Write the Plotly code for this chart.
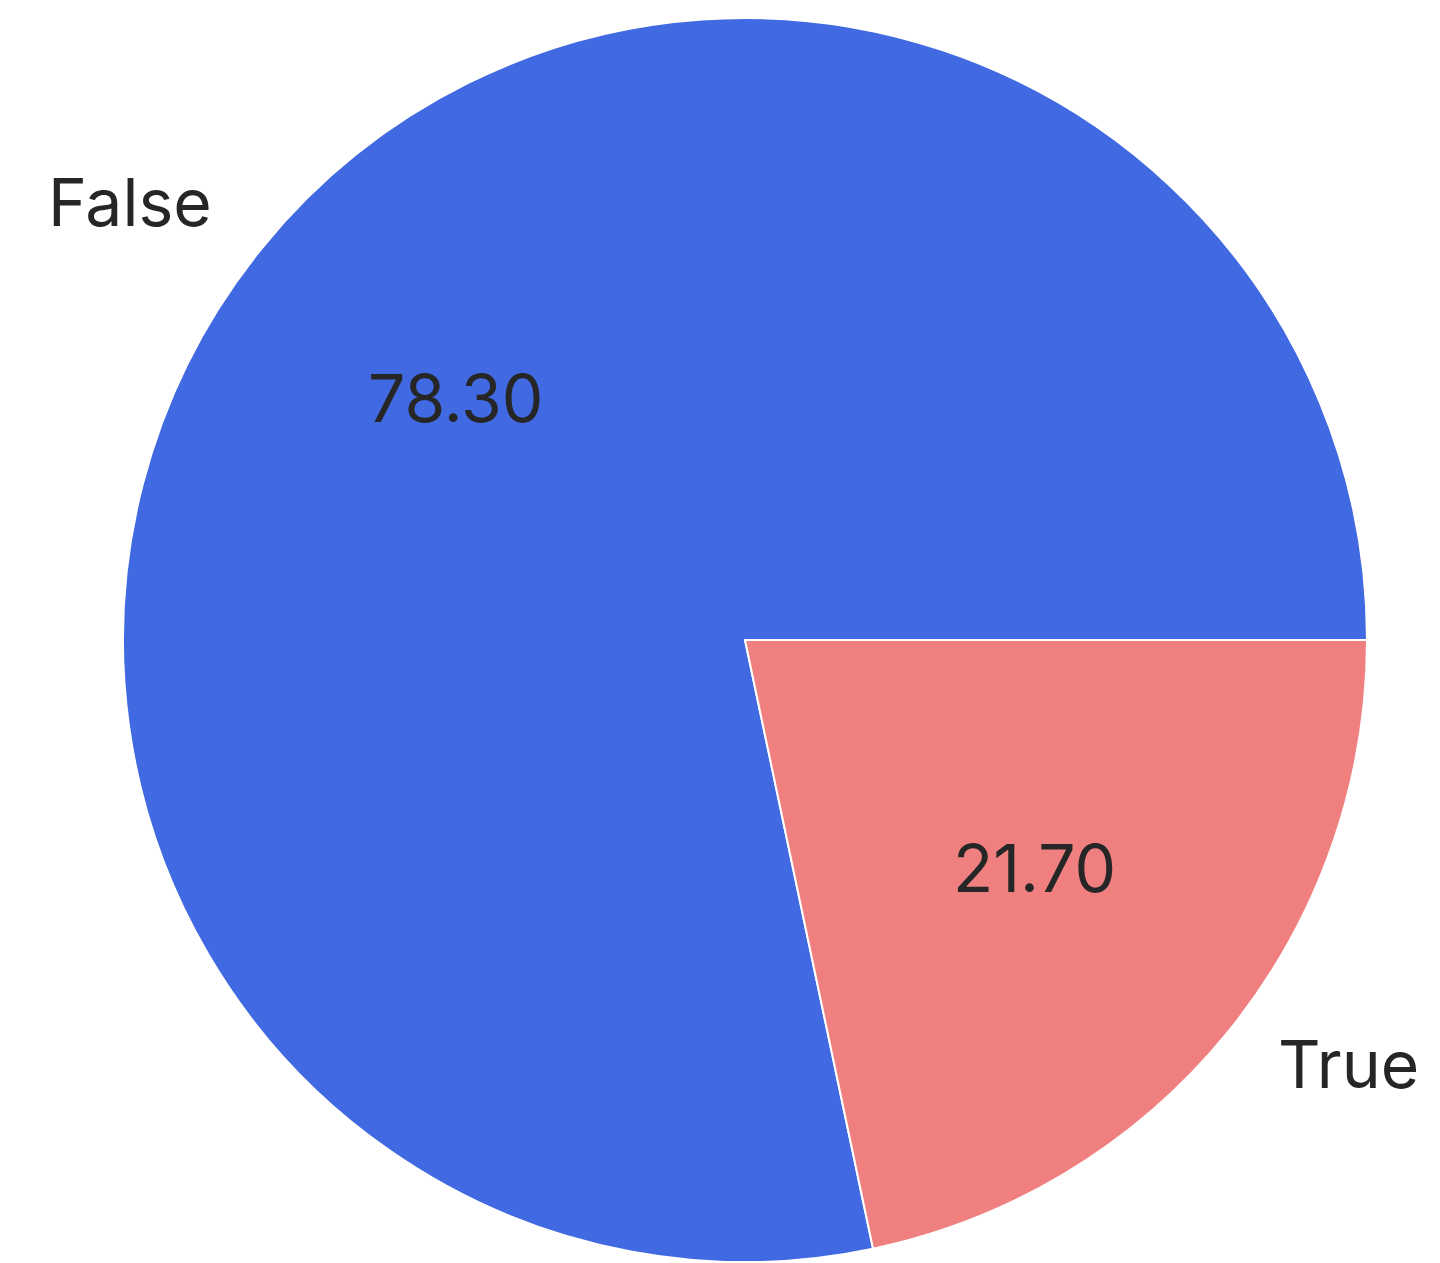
import math
import plotly.graph_objects as go

labels = ["False", "True"]
values = [78.30, 21.70]
colors = ["#4169E1", "#F08080"]

W, H = 1440, 1263
# pie geometry (pixels, page body has an 8px margin)
OFF = 8
cx, cy_top, R = 745 - OFF, 640 - OFF, 622
cy = H - cy_top  # from bottom

total = sum(values)
# start the first slice at 3 o'clock, going counterclockwise (matplotlib style)
rotation = 90 + 360 * (total - values[0]) / total

fig = go.Figure(go.Pie(
    labels=labels, values=values, sort=False,
    direction="counterclockwise", rotation=rotation,
    marker=dict(colors=colors, line=dict(color="white", width=2)),
    textinfo="none", hoverinfo="label+value", showlegend=False,
    domain=dict(x=[(cx - R) / W, (cx + R) / W], y=[(cy - R) / H, (cy + R) / H]),
))

start = 0.0
font = dict(family="Inter, Lato, sans-serif", size=66, color="#262626")
for lab, v in zip(labels, values):
    span = 360 * v / total
    mid = math.radians(start + span / 2)
    start += span
    c, s = math.cos(mid), math.sin(mid)
    # outer label at 1.1 R
    fig.add_annotation(
        x=(cx + 1.1 * R * c) / W, y=(cy + 1.1 * R * s) / H, xref="paper", yref="paper",
        text=lab, showarrow=False, font=font, yshift=7,
        xanchor="right" if c < 0 else "left", yanchor="middle",
    )
    # percentage at 0.6 R
    fig.add_annotation(
        x=(cx + 0.6 * R * c) / W, y=(cy + 0.6 * R * s) / H, xref="paper", yref="paper",
        text=f"{v:.2f}", showarrow=False, font=font, yshift=7,
        xanchor="center", yanchor="middle",
    )

fig.update_layout(
    width=W, height=H, margin=dict(l=0, r=0, t=0, b=0),
    paper_bgcolor="white", plot_bgcolor="white",
)
fig.write_html("out.html")
